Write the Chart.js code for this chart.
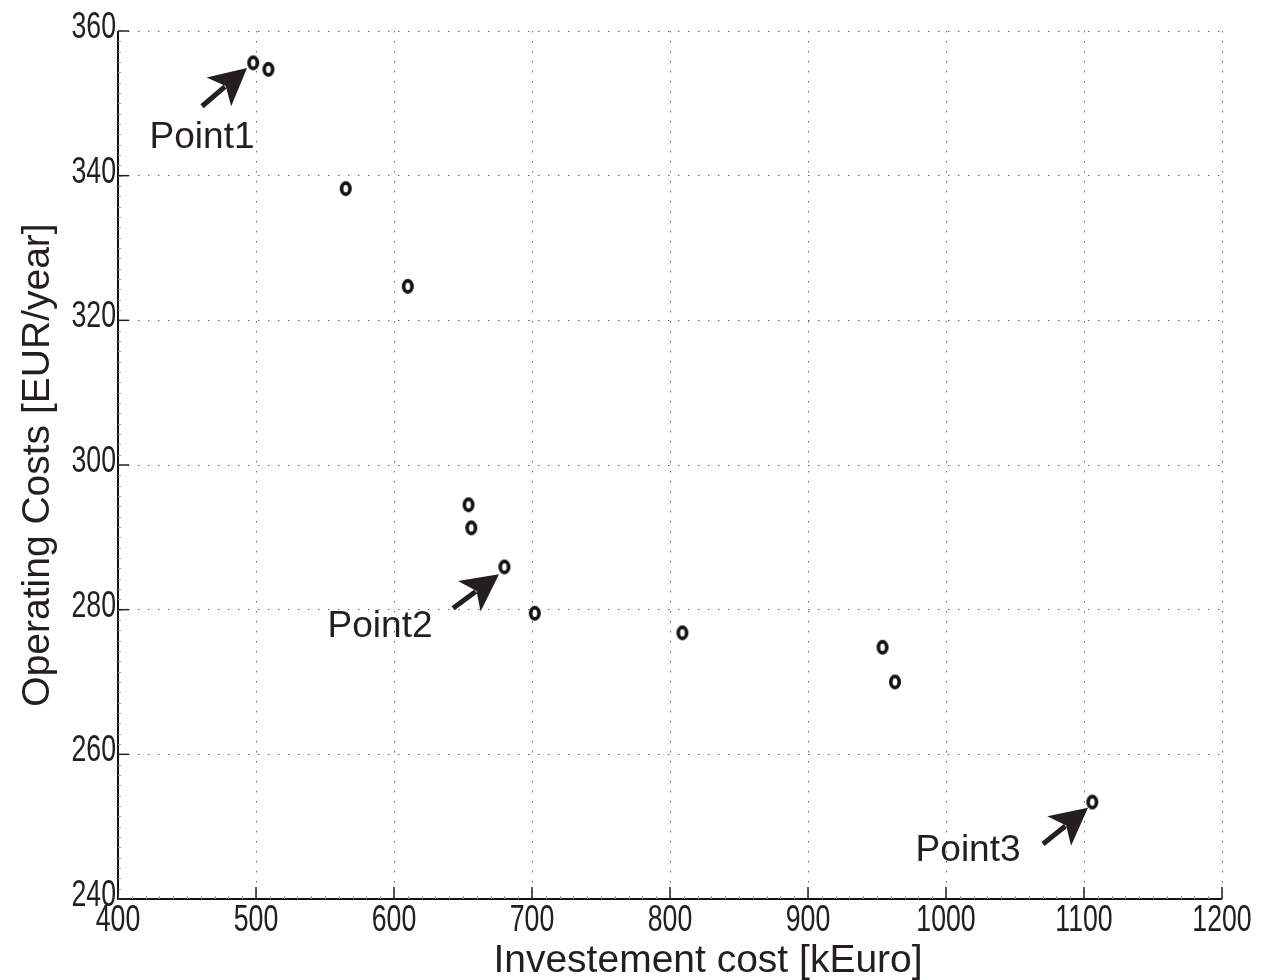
<!DOCTYPE html>
<html>
<head>
<meta charset="utf-8">
<script src="https://cdn.jsdelivr.net/npm/chart.js@4.4.1/dist/chart.umd.min.js"></script>
<style>
  html, body { margin: 0; padding: 0; background: #fff; }
  #wrap { width: 1266px; height: 980px; }
</style>
</head>
<body>
<div id="wrap"><canvas id="grafico"></canvas></div>
<script>
// investment cost (kEuro) vs operating costs (EUR/year)
const investimento = [498, 509, 565, 610, 654, 656, 680, 702, 809, 954, 963, 1106];
const custoOperacao = [355.6, 354.7, 338.2, 324.7, 294.5, 291.3, 285.9, 279.5, 276.8, 274.8, 270.0, 253.4];

const xTicks = [400, 500, 600, 700, 800, 900, 1000, 1100, 1200];
const yTicks = [240, 260, 280, 300, 320, 340, 360];
const xPassoMenor = 10;
const yPassoMenor = 20 / 14;

const tituloX = 'Investement cost [kEuro]';
const tituloY = 'Operating Costs [EUR/year]';

// annotations (data units): label, arrow tail, arrow tip, label centre
const rotulos = ['Point1', 'Point2', 'Point3'];
const setaInicioX = [460.9, 642.8, 1070.3];
const setaInicioY = [349.6, 280.2, 247.6];
const setaFimX = [493.5, 676.1, 1102.9];
const setaFimY = [354.9, 284.9, 252.6];
const rotuloX = [460.9, 589.9, 1016.0];
const rotuloY = [345.3, 277.6, 246.6];

const fonte = '"Liberation Sans", Arial, Helvetica, sans-serif';
const corTexto = '#231f20';

// marker: small upright ellipse, thick outline
function criarMarcador() {
  const c = document.createElement('canvas');
  c.width = 16; c.height = 19;
  const g = c.getContext('2d');
  g.strokeStyle = '#111';
  g.lineWidth = 3.6;
  g.beginPath();
  g.ellipse(8, 9.5, 4.2, 5.6, 0, 0, Math.PI * 2);
  g.stroke();
  return c;
}

const anotacoes = {
  id: 'anotacoes',
  afterDatasetsDraw(chart) {
    const ctx = chart.ctx;
    const sx = chart.scales.x, sy = chart.scales.y;
    ctx.save();
    // axis lines
    ctx.strokeStyle = '#111';
    ctx.lineWidth = 2;
    ctx.beginPath();
    ctx.moveTo(sx.left, sy.top); ctx.lineTo(sx.left, sy.bottom); ctx.lineTo(sx.right, sy.bottom);
    ctx.stroke();
    // minor ticks
    ctx.strokeStyle = '#999';
    ctx.lineWidth = 1;
    for (let v = 400; v <= 1200; v += xPassoMenor) {
      const px = Math.round(sx.getPixelForValue(v)) + 0.5;
      ctx.beginPath(); ctx.moveTo(px, sy.bottom); ctx.lineTo(px, sy.bottom - 3); ctx.stroke();
    }
    for (let v = 240; v <= 360.01; v += yPassoMenor) {
      const py = Math.round(sy.getPixelForValue(v)) + 0.5;
      ctx.beginPath(); ctx.moveTo(sx.left, py); ctx.lineTo(sx.left + 3, py); ctx.stroke();
    }
    // major inward ticks
    ctx.strokeStyle = '#222';
    ctx.lineWidth = 1.5;
    xTicks.forEach(v => {
      const px = sx.getPixelForValue(v);
      ctx.beginPath(); ctx.moveTo(px, sy.bottom); ctx.lineTo(px, sy.bottom - 12); ctx.stroke();
    });
    yTicks.forEach(v => {
      const py = sy.getPixelForValue(v);
      ctx.beginPath(); ctx.moveTo(sx.left, py); ctx.lineTo(sx.left + 11, py); ctx.stroke();
    });
    // tick labels (narrow face)
    ctx.fillStyle = corTexto;
    ctx.font = '36px ' + fonte;
    ctx.textBaseline = 'middle';
    xTicks.forEach(v => {
      ctx.save();
      ctx.translate(sx.getPixelForValue(v), sy.bottom + 22);
      ctx.scale(0.74, 1);
      ctx.textAlign = 'center';
      ctx.fillText(String(v), 0, 0);
      ctx.restore();
    });
    yTicks.forEach(v => {
      ctx.save();
      ctx.translate(sx.left - 2, sy.getPixelForValue(v) - 3);
      ctx.scale(0.74, 1);
      ctx.textAlign = 'right';
      ctx.fillText(String(v), 0, 0);
      ctx.restore();
    });
    // x axis title (sits a little right of centre in the original)
    ctx.font = '39px ' + fonte;
    ctx.textAlign = 'center';
    ctx.textBaseline = 'alphabetic';
    ctx.fillText(tituloX, (sx.left + sx.right) / 2 + 38, sy.bottom + 73);
    // arrows and labels
    ctx.fillStyle = corTexto;
    ctx.strokeStyle = corTexto;
    for (let i = 0; i < rotulos.length; i++) {
      const x0 = sx.getPixelForValue(setaInicioX[i]);
      const y0 = sy.getPixelForValue(setaInicioY[i]);
      const x1 = sx.getPixelForValue(setaFimX[i]);
      const y1 = sy.getPixelForValue(setaFimY[i]);
      const ang = Math.atan2(y1 - y0, x1 - x0);
      const comp = 37, larg = 19;
      const bx = x1 - comp * Math.cos(ang), by = y1 - comp * Math.sin(ang);
      ctx.lineWidth = 5;
      ctx.beginPath(); ctx.moveTo(x0, y0); ctx.lineTo(bx + 8 * Math.cos(ang), by + 8 * Math.sin(ang)); ctx.stroke();
      ctx.beginPath();
      ctx.moveTo(x1, y1);
      ctx.lineTo(bx + larg * Math.sin(ang), by - larg * Math.cos(ang));
      ctx.lineTo(bx + 9 * Math.cos(ang), by + 9 * Math.sin(ang));
      ctx.lineTo(bx - larg * Math.sin(ang), by + larg * Math.cos(ang));
      ctx.closePath(); ctx.fill();
      ctx.font = '37px ' + fonte;
      ctx.textAlign = 'center';
      ctx.textBaseline = 'middle';
      ctx.fillText(rotulos[i], sx.getPixelForValue(rotuloX[i]), sy.getPixelForValue(rotuloY[i]));
    }
    ctx.restore();
  }
};

new Chart(document.getElementById('grafico').getContext('2d'), {
  type: 'scatter',
  data: {
    datasets: [{
      data: investimento.map((x, i) => ({ x: x, y: custoOperacao[i] })),
      pointStyle: criarMarcador(),
      pointRadius: 6,
      showLine: false
    }]
  },
  options: {
    responsive: true,
    maintainAspectRatio: false,
    animation: false,
    layout: { padding: { top: 31, right: 44, left: 0, bottom: 0 } },
    plugins: { legend: { display: false }, tooltip: { enabled: false } },
    scales: {
      x: {
        type: 'linear',
        min: 400, max: 1200,
        afterBuildTicks: s => { s.ticks = xTicks.map(v => ({ value: v })); },
        afterFit: s => { s.height = 81; },
        grid: { color: '#666', lineWidth: 1, drawTicks: false },
        border: { display: false, dash: [1.5, 8.5] },
        ticks: { display: false },
        title: { display: false }
      },
      y: {
        type: 'linear',
        min: 240, max: 360,
        afterBuildTicks: s => { s.ticks = yTicks.map(v => ({ value: v })); },
        afterFit: s => { s.width = 118; },
        grid: { color: '#666', lineWidth: 1, drawTicks: false },
        border: { display: false, dash: [1.5, 8.5] },
        ticks: { display: false },
        title: { display: true, text: tituloY, color: corTexto,
                 font: { family: fonte, size: 39 }, padding: { top: 15, bottom: 0 } }
      }
    }
  },
  plugins: [anotacoes]
});
</script>
</body>
</html>
